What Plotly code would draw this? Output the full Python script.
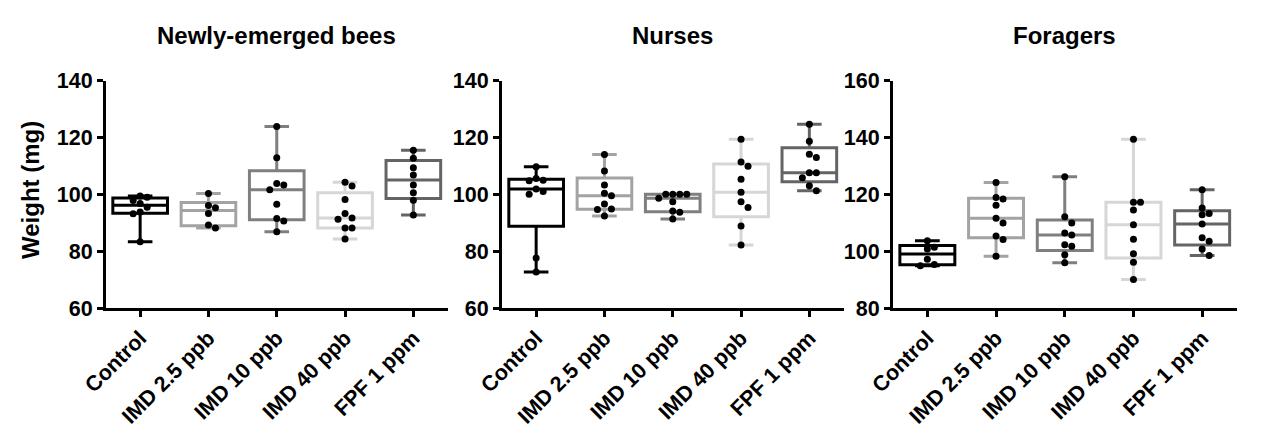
import numpy as np
import plotly.graph_objects as go

categories = ["Control", "IMD 2.5 ppb", "IMD 10 ppb", "IMD 40 ppb", "FPF 1 ppm"]
panel_titles = ["Newly-emerged bees", "Nurses", "Foragers"]
y_title = "Weight (mg)"

newly_control = [99.4, 99.0, 97.8, 96.8, 95.5, 93.8, 93.2, 83.3]
newly_imd25 = [100.3, 96.1, 95.3, 93.3, 89.2, 88.2]
newly_imd10 = [123.9, 112.9, 103.8, 103.3, 101.6, 96.5, 91.5, 90.6, 86.8]
newly_imd40 = [104.3, 102.9, 98.2, 93.3, 91.7, 91.2, 88.2, 88.2, 84.3]
newly_fpf = [115.5, 112.7, 109.4, 106.8, 103.3, 100.6, 97.9, 92.7]

nurse_control = [109.7, 105.6, 105.0, 104.8, 101.9, 101.0, 100.0, 77.6, 72.7]
nurse_imd25 = [114.0, 108.2, 103.3, 100.4, 99.5, 96.6, 94.8, 94.7, 92.4]
nurse_imd10 = [100.0, 100.0, 100.0, 100.0, 98.6, 97.4, 94.1, 93.7, 91.3]
nurse_imd40 = [119.4, 111.4, 109.9, 105.3, 100.7, 97.4, 95.4, 88.9, 82.2]
nurse_fpf = [124.7, 118.7, 114.1, 113.0, 107.6, 107.6, 105.8, 103.0, 101.3]

forager_control = [103.7, 101.4, 100.8, 97.2, 95.3, 94.9]
forager_imd25 = [124.2, 118.9, 118.4, 116.2, 111.6, 109.9, 105.3, 104.1, 98.2]
forager_imd10 = [126.2, 112.1, 109.9, 106.4, 105.7, 102.3, 101.7, 98.7, 95.9]
forager_imd40 = [139.4, 117.2, 117.2, 114.5, 109.3, 104.2, 99.1, 96.1, 90.0]
forager_fpf = [121.6, 115.2, 113.3, 112.8, 109.6, 104.7, 103.5, 100.8, 98.5]

panels = [
    [newly_control, newly_imd25, newly_imd10, newly_imd40, newly_fpf],
    [nurse_control, nurse_imd25, nurse_imd10, nurse_imd40, nurse_fpf],
    [forager_control, forager_imd25, forager_imd10, forager_imd40, forager_fpf],
]
y_ranges = [[60, 140], [60, 140], [80, 160]]
y_tickvals = [[60, 80, 100, 120, 140], [60, 80, 100, 120, 140], [80, 100, 120, 140, 160]]

box_colors = ["#000000", "#a3a3a3", "#7f7f7f", "#d6d6d6", "#646464"]

W, H = 1268, 439
x_domains_px = [(106, 447.5), (502, 843.5), (893, 1236.5)]
y_domain_px = (80.7, 308)
FONT = "Liberation Sans, Arial, sans-serif"


def swarm_offsets(values, px_per_y, d):
    placed = []
    offs = []
    for v in values:
        y = v * px_per_y
        cands = [0.0]
        for j in range(1, 12):
            cands += [j * d, -j * d]
        chosen = 0.0
        for c in cands:
            if all((c - px) ** 2 + (y - py) ** 2 >= (d * 0.95) ** 2 for px, py in placed):
                chosen = c
                break
        placed.append((chosen, y))
        offs.append(chosen)
    return offs


fig = go.Figure()
yd0 = 1 - y_domain_px[1] / H
yd1 = 1 - y_domain_px[0] / H

for p, groups in enumerate(panels):
    xa = "x" if p == 0 else f"x{p+1}"
    ya = "y" if p == 0 else f"y{p+1}"
    x0, x1 = x_domains_px[p]
    px_per_cat = (x1 - x0) / 5.0
    px_per_y = (y_domain_px[1] - y_domain_px[0]) / (y_ranges[p][1] - y_ranges[p][0])
    pts_x, pts_y = [], []
    for i, vals in enumerate(groups):
        arr = np.array(vals, dtype=float)
        q1 = float(np.percentile(arr, 25, method="weibull"))
        med = float(np.percentile(arr, 50, method="weibull"))
        q3 = float(np.percentile(arr, 75, method="weibull"))
        fig.add_trace(go.Box(
            x=[i], q1=[q1], median=[med], q3=[q3],
            lowerfence=[float(arr.min())], upperfence=[float(arr.max())],
            boxpoints=False, width=0.8, whiskerwidth=0.45,
            line=dict(color=box_colors[i], width=3),
            fillcolor="rgba(255,255,255,0)",
            xaxis=xa, yaxis=ya, showlegend=False, hoverinfo="skip",
        ))
        offs = swarm_offsets(vals, px_per_y, 7.0)
        for v, o in zip(vals, offs):
            pts_x.append(i + o / px_per_cat)
            pts_y.append(v)
    fig.add_trace(go.Scatter(
        x=pts_x, y=pts_y, mode="markers",
        marker=dict(color="black", size=7, line=dict(width=0)),
        xaxis=xa, yaxis=ya, showlegend=False, hoverinfo="skip",
    ))

    axis_common = dict(
        showline=True, linecolor="black", linewidth=3,
        ticks="outside", ticklen=6, tickwidth=2.5, tickcolor="black",
        showgrid=False, zeroline=False, automargin=False,
        tickfont=dict(family=FONT, size=21.5, color="black", weight="bold"),
    )
    xkey = "xaxis" if p == 0 else f"xaxis{p+1}"
    ykey = "yaxis" if p == 0 else f"yaxis{p+1}"
    fig.update_layout({
        xkey: dict(
            domain=[x0 / W, x1 / W], range=[-0.5, 4.5],
            tickvals=list(range(5)), ticktext=categories, tickangle=-45,
            anchor=ya, **axis_common,
        ),
        ykey: dict(
            domain=[yd0, yd1], range=y_ranges[p], tickvals=y_tickvals[p],
            anchor=xa, **axis_common,
        ),
    })
    fig.add_annotation(
        text=panel_titles[p], xref="paper", yref="paper",
        x=(x0 + x1) / 2 / W, y=1 - 35 / H, xanchor="center", yanchor="middle",
        showarrow=False, font=dict(family=FONT, size=24, color="black", weight="bold"),
    )

fig.add_annotation(
    text=y_title, xref="paper", yref="paper", x=30 / W, y=1 - 190 / H,
    xanchor="center", yanchor="middle", textangle=-90, showarrow=False,
    font=dict(family=FONT, size=24, color="black", weight="bold"),
)

fig.update_layout(
    width=W, height=H, margin=dict(l=0, r=0, t=0, b=0, autoexpand=False),
    paper_bgcolor="white", plot_bgcolor="white",
)

fig.write_html("out.html", config={"displayModeBar": False},
               post_script="document.body.style.margin='0';")
